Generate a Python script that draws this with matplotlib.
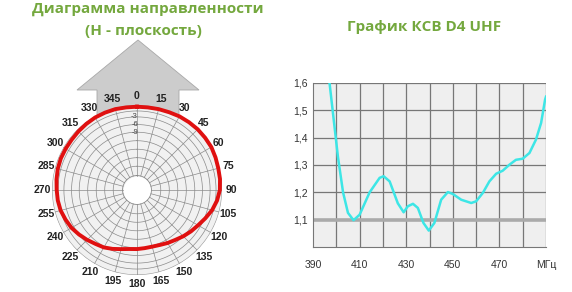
import numpy as np
import matplotlib
matplotlib.use("Agg")
import matplotlib.pyplot as plt
from matplotlib.patches import Polygon

# ---------------- data ----------------
# radiation pattern, H-plane (normalised radius, outer ring = 1)
pattern_deg = [0, 7.5, 15, 22.5, 30, 37.5, 45, 52.5, 60, 67.5, 75, 82.5,
               90, 97.5, 105, 112.5, 120, 127.5, 135, 142.5, 150, 157.5, 165, 172.5,
               180, 187.5, 195, 202.5, 210, 217.5, 225, 232.5, 240, 247.5, 255, 262.5,
               270, 277.5, 285, 292.5, 300, 307.5, 315, 322.5, 330, 337.5, 345, 352.5, 360]
pattern_r = [0.98, 0.98, 0.985, 0.99, 1.0, 1.005, 1.01, 1.01, 1.01, 1.0, 0.99, 0.985,
             0.975, 0.95, 0.915, 0.87, 0.83, 0.80, 0.77, 0.74, 0.72, 0.70, 0.69, 0.69,
             0.695, 0.70, 0.72, 0.75, 0.78, 0.80, 0.83, 0.86, 0.89, 0.91, 0.93, 0.94,
             0.945, 0.955, 0.965, 0.97, 0.97, 0.97, 0.975, 0.98, 0.985, 0.985, 0.985, 0.98, 0.98]
ring_r = [0.28, 0.38, 0.48, 0.58, 0.68, 0.77, 0.86, 0.93]
db_labels = ["-3", "-6", "-9"]
angle_labels = list(range(0, 360, 15))

# VSWR curve
freq = [396.5, 397.1, 400.7, 402.9, 405.0, 407.4, 410.0, 414.3, 418.6, 420.3, 422.9,
        426.4, 428.9, 430.7, 432.9, 435.0, 437.4, 439.7, 442.1, 445.0, 447.9, 450.0,
        453.6, 457.9, 460.0, 462.9, 465.7, 468.6, 471.4, 474.3, 477.1, 480.0, 482.9,
        485.7, 487.9, 489.6, 490.0]
vswr = [1.63, 1.60, 1.33, 1.20, 1.125, 1.098, 1.118, 1.20, 1.253, 1.259, 1.24,
        1.16, 1.127, 1.149, 1.158, 1.143, 1.088, 1.06, 1.088, 1.173, 1.201, 1.194,
        1.173, 1.161, 1.167, 1.198, 1.24, 1.268, 1.279, 1.301, 1.319, 1.323, 1.344,
        1.393, 1.454, 1.539, 1.55]
x_ticks = [390, 410, 430, 450, 470, 490]
x_labels = ["390", "410", "430", "450", "470", "МГц"]
y_ticks = [1.1, 1.2, 1.3, 1.4, 1.5, 1.6]
y_labels = ["1,1", "1,2", "1,3", "1,4", "1,5", "1,6"]

green = "#74a83e"
W, H = 572, 292
fig = plt.figure(figsize=(W / 100, H / 100), dpi=100)

# ---------------- titles ----------------
fig.text(148 / W, 1 - 9 / H, "Диаграмма направленности", ha="center", va="center",
         fontsize=11, fontweight="bold", color=green, family="Open Sans")
fig.text(143 / W, 1 - 31 / H, "(Н - плоскость)", ha="center", va="center",
         fontsize=11, fontweight="bold", color=green, family="Open Sans")
fig.text(424 / W, 1 - 27 / H, "График КСВ D4 UHF", ha="center", va="center",
         fontsize=11, fontweight="bold", color=green, family="Open Sans")

# ---------------- arrow behind the polar plot ----------------
bg = fig.add_axes([0, 0, 1, 1])
bg.set_xlim(0, W)
bg.set_ylim(H, 0)
bg.axis("off")
arrow = [(138, 40), (199, 90), (179, 90), (179, 160), (97, 160), (97, 90), (77, 90)]
bg.add_patch(Polygon(arrow, closed=True, facecolor="#cccccc", edgecolor="#a8a8a8", lw=0.6))

# ---------------- polar pattern ----------------
cx, cy, R = 137, 190, 85
ax = fig.add_axes([(cx - R) / W, (H - cy - R) / H, 2 * R / W, 2 * R / H], projection="polar")
ax.set_theta_zero_location("N")
ax.set_theta_direction(-1)
ax.set_ylim(0, 1.0)
ax.grid(False)
ax.set_xticks([])
ax.set_yticks([])
ax.spines["polar"].set_visible(False)
ax.patch.set_alpha(0)

th = np.linspace(0, 2 * np.pi, 361)
ax.fill_between(th, 0.17, 1.0, color="#f1f1f1", zorder=0)
ax.plot(th, np.ones_like(th), color="#9a9a9a", lw=0.8, zorder=1)
ax.plot(th, np.full_like(th, 0.17), color="#8a8a8a", lw=0.6, zorder=1)
for r in ring_r:
    ax.plot(th, np.full_like(th, r), color="#8a8a8a", lw=0.5, zorder=1)
for a in angle_labels:
    t = np.deg2rad(a)
    ax.plot([t, t], [0.17, 1.0], color="#8a8a8a", lw=0.5, zorder=1)
    ax.text(t, 1.11, str(a), ha="center", va="center", fontsize=7.5,
            fontweight="bold", color="#222222", family="Liberation Sans", clip_on=False)
for lab, r in zip(db_labels, ring_r[-2::-1]):
    ax.text(np.deg2rad(-2), r, lab, ha="center", va="center", fontsize=5.5,
            color="#444444", family="Liberation Sans", zorder=3)

ax.plot(np.deg2rad(pattern_deg), pattern_r, color="#e01010", lw=2.8, zorder=4,
        clip_on=False, solid_joinstyle="round")

# ---------------- VSWR plot ----------------
ax2 = fig.add_axes([313 / W, 1 - 247 / H, 233 / W, 164 / H])
ax2.set_facecolor("#efefef")
ax2.set_xlim(390, 490)
ax2.set_ylim(1.0, 1.6)
ax2.set_yticks(y_ticks)
ax2.set_yticklabels(y_labels)
ax2.set_xticks(x_ticks)
ax2.set_xticklabels(x_labels)
for x in range(400, 491, 10):
    ax2.axvline(x, color="#777777", lw=0.9, zorder=1)
for y in y_ticks:
    if abs(y - 1.1) < 1e-6:
        ax2.axhline(y, color="#aaaaaa", lw=2.6, zorder=1)
    else:
        ax2.axhline(y, color="#777777", lw=0.9, zorder=1)
for s in ["top", "right"]:
    ax2.spines[s].set_visible(False)
ax2.spines["left"].set_color("#777777")
ax2.spines["bottom"].set_color("#777777")
ax2.tick_params(length=0, labelsize=7.5, labelcolor="#333333")
ax2.tick_params(axis="x", pad=9)
ax2.tick_params(axis="y", pad=4)
for lab in ax2.get_xticklabels() + ax2.get_yticklabels():
    lab.set_family("Liberation Sans")
ax2.plot(freq, vswr, color="#3de6e6", lw=1.8, zorder=3, solid_joinstyle="round")

fig.savefig("out.png", dpi=100)
